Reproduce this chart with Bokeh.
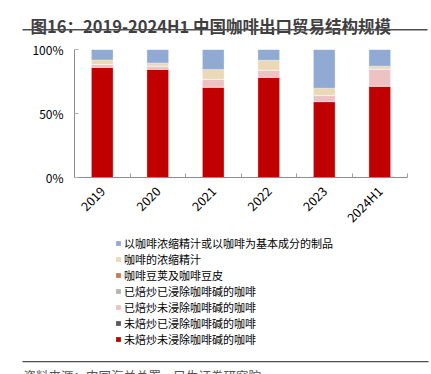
from bokeh.plotting import figure
from bokeh.models import (FixedTicker, Label, Legend, LegendItem, BoxAnnotation,
                          ColumnDataSource)
from bokeh.embed import file_html
from bokeh.resources import INLINE

# ---- data (shares, %) ----
years = ["2019", "2020", "2021", "2022", "2023", "2024H1"]
series_names = [
    "未焙炒未浸除咖啡碱的咖啡",
    "未焙炒已浸除咖啡碱的咖啡",
    "已焙炒未浸除咖啡碱的咖啡",
    "已焙炒已浸除咖啡碱的咖啡",
    "咖啡豆荚及咖啡豆皮",
    "咖啡的浓缩精汁",
    "以咖啡浓缩精汁或以咖啡为基本成分的制品",
]
raw_unroasted = [86.0, 84.5, 70.5, 78.2, 59.2, 71.2]
raw_decaf = [0.1, 0.1, 0.1, 0.1, 0.2, 0.1]
roasted = [2.1, 2.3, 6.0, 5.5, 4.6, 13.3]
roasted_decaf = [0.2, 0.2, 0.1, 0.1, 0.2, 0.1]
husks = [0.1, 0.1, 0.1, 0.1, 0.1, 0.1]
extracts = [3.3, 2.3, 7.6, 7.6, 5.5, 2.2]
preparations = [8.2, 10.5, 15.6, 8.4, 30.2, 13.0]
series_values = [raw_unroasted, raw_decaf, roasted, roasted_decaf, husks, extracts, preparations]
colors = ["#C00000", "#595959", "#EDC2C3", "#B4B4B4", "#C47C4A", "#EAD8B6", "#91AAD3"]
y_ticks = [0, 50, 100]
y_tick_labels = ["0%", "50%", "100%"]
title_text = "图16：2019-2024H1 中国咖啡出口贸易结构规模"
source_text = "资料来源：中国海关总署，民生证券研究院"

FONT = "Noto Sans CJK SC"
W = 431
H_TOP, H_MAIN = 40, 195
H_BOT = 374 - H_TOP - H_MAIN


def blank_fig(h):
    f = figure(width=W, height=h, output_backend="svg", toolbar_location=None,
               x_range=(0, W), y_range=(h, 0), x_axis_type=None, y_axis_type=None,
               min_border=0)
    f.outline_line_color = None
    f.grid.grid_line_color = None
    return f


# ---- title strip ----
pt = blank_fig(H_TOP)
pt.add_layout(Label(x=30, y=25, text=title_text, text_font=FONT,
                    text_font_size="16.5px", text_font_style="bold",
                    text_color="#3F3F3F", text_baseline="alphabetic"))
pt.add_layout(BoxAnnotation(left=22, right=427, top=28.6, bottom=30.0,
                            fill_color="#4D4D4D", fill_alpha=1, line_color=None))

# ---- main chart ----
p = figure(width=W, height=H_MAIN, output_backend="svg", toolbar_location=None,
           x_range=(0, len(years)), y_range=(0, 100),
           min_border_left=74, min_border_right=24, min_border_top=9,
           min_border_bottom=H_MAIN - 9 - 128)
p.outline_line_color = None
p.grid.grid_line_color = None

xs = [i + 0.5 for i in range(len(years))]
stacks = []
bottom = [0.0] * len(years)
for name, vals, col in zip(series_names, series_values, colors):
    top = [b + v for b, v in zip(bottom, vals)]
    stacks.append((bottom, top))
    src = ColumnDataSource(dict(x=xs, bottom=bottom, top=top))
    p.vbar(x="x", bottom="bottom", top="top", width=0.39, source=src,
           fill_color=col, line_color="white", line_width=0.5, line_alpha=0.6)
    bottom = top

xa = p.xaxis[0]
xa.ticker = FixedTicker(ticks=xs, minor_ticks=list(range(len(years) + 1)))
xa.major_label_overrides = {x: y for x, y in zip(xs, years)}
xa.major_tick_in = 0
xa.major_tick_out = 0
xa.minor_tick_in = 4
xa.minor_tick_out = 0
xa.minor_tick_line_color = "#A0A0A0"
xa.axis_line_color = "#8C8C8C"
xa.major_label_orientation = 0.785398
xa.major_label_text_font = FONT
xa.major_label_text_font_size = "12.5px"
xa.major_label_text_color = "#000000"
xa.major_label_standoff = 11

ya = p.yaxis[0]
ya.ticker = FixedTicker(ticks=y_ticks)
ya.major_label_overrides = {t: l for t, l in zip(y_ticks, y_tick_labels)}
ya.major_tick_in = 4
ya.major_tick_out = 0
ya.minor_tick_line_color = None
ya.major_tick_line_color = "#B0B0B0"
ya.axis_line_color = "#8C8C8C"
ya.major_label_text_font = FONT
ya.major_label_text_font_size = "12px"
ya.major_label_text_color = "#000000"
ya.major_label_standoff = 11

# ---- legend + source strip ----
pb = blank_fig(H_BOT)
leg_renderers = []
for (b, t), col in zip(stacks, colors):
    src = ColumnDataSource(dict(x=xs, bottom=b, top=t))
    r = pb.vbar(x="x", bottom="bottom", top="top", width=0.39, source=src,
                fill_color=col, line_color=None)
    r.visible = False
    leg_renderers.append(r)
items = [LegendItem(label=n, renderers=[r]) for n, r in zip(series_names, leg_renderers)][::-1]
leg = Legend(items=items, location=(115, 27), orientation="vertical",
             glyph_width=6, glyph_height=6, label_standoff=3, spacing=0,
             label_height=16, padding=0, margin=0,
             label_text_font=FONT, label_text_font_size="11px",
             label_text_color="#000000", background_fill_alpha=0,
             border_line_color=None)
pb.add_layout(leg, "center")
off = H_TOP + H_MAIN
pb.add_layout(BoxAnnotation(left=22, right=428, top=360.4 - off, bottom=361.7 - off,
                            fill_color="#4D4D4D", fill_alpha=1, line_color=None))
pb.add_layout(Label(x=23, y=365 - off, text=source_text, text_font=FONT,
                    text_font_size="12.5px", text_color="#555555",
                    text_baseline="top"))

open("out.html", "w").write(file_html([pt, p, pb], INLINE))
